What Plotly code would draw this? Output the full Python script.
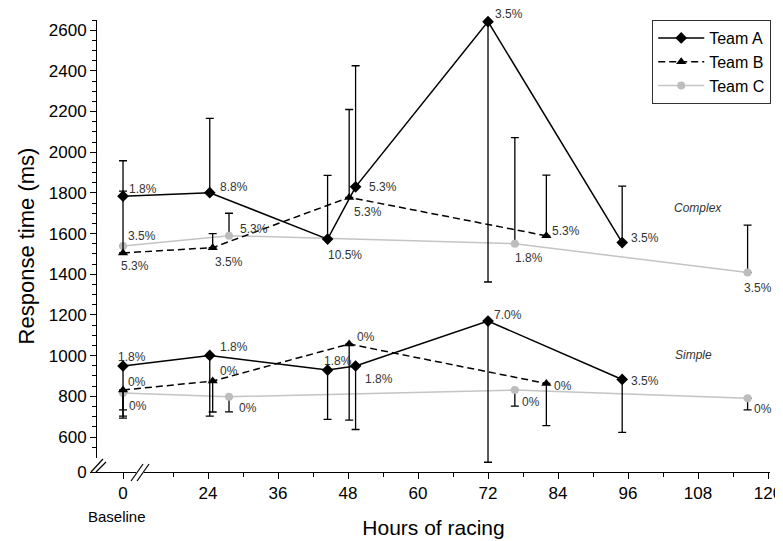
import plotly.graph_objects as go

# ---------------- data ----------------
hours_A = [0, 24.3, 44.5, 49.3, 72, 95]
hours_B = [0, 24.8, 48.2, 82]
hours_C = [0, 27.6, 76.6, 116.5]

# Complex task (ms)
complex_A = [1784, 1801, 1573, 1830, 2642, 1556]
complex_A_up = [174, 365, 313, 595, 0, 277]
complex_A_down = [0, 0, 0, 0, 1280, 0]
complex_B = [1505, 1531, 1778, 1589]
complex_B_up = [304, 69, 432, 298]
complex_B_down = [0, 0, 0, 0]
complex_C = [1539, 1590, 1550, 1409]
complex_C_up = [0, 110, 522, 233]
complex_C_down = [0, 0, 0, 0]

# Simple task (ms)
simple_A = [949, 1001, 929, 949, 1170, 883]
simple_A_up = [0, 0, 0, 0, 0, 0]
simple_A_down = [256, 298, 242, 312, 694, 260]
simple_B = [831, 875, 1057, 863]
simple_B_up = [0, 0, 0, 0]
simple_B_down = [128, 152, 374, 207]
simple_C = [816, 798, 831, 790]
simple_C_up = [0, 0, 0, 0]
simple_C_down = [83, 74, 79, 57]

# percentage labels
complex_A_lbl = ["1.8%", "8.8%", "10.5%", "5.3%", "3.5%", "3.5%"]
complex_B_lbl = ["5.3%", "3.5%", "5.3%", "5.3%"]
complex_C_lbl = ["3.5%", "5.3%", "1.8%", "3.5%"]
simple_A_lbl = ["1.8%", "1.8%", "1.8%", "1.8%", "7.0%", "3.5%"]
simple_B_lbl = ["0%", "0%", "0%", "0%"]
simple_C_lbl = ["0%", "0%", "0%", "0%"]

x_tick_labels = ["0", "24", "36", "48", "60", "72", "84", "96", "108", "120"]
y_tick_labels = ["0", "600", "800", "1000", "1200", "1400", "1600", "1800",
                 "2000", "2200", "2400", "2600"]

# ---------------- broken-axis scales ----------------
X_BASE_SHIFT = 9.43      # display position of hour 0 (axis broken between 0 and 24)
Y_ZERO_POS = 428         # display position of the "0" tick (axis broken below 600)


def xd(h):
    return h + X_BASE_SHIFT if h < 12 else h


FONT = "Liberation Sans, Arial, Helvetica, sans-serif"

# label offsets (px) relative to points
off_cA = [(20, 7), (24, 6), (17, -16), (27, 0), (21, 8), (23, 5)]
off_cB = [(12, -13), (16, -14), (19, -15), (20, 5)]
off_cC = [(19, 10), (25, 7), (14, -14), (10, -16)]
off_sA = [(9, 9), (24, 8), (10, 9), (23, -13), (20, 6), (23, -2)]
off_sB = [(14, 8), (16, 10), (17, 7), (17, -2)]
off_sC = [(15, -13), (19, -11), (16, -12), (15, -11)]

styles = {
    "A": dict(line=dict(color="black", width=1.5),
              marker=dict(symbol="diamond", size=9, color="black")),
    "B": dict(line=dict(color="black", width=1.5, dash="7px,4px"),
              marker=dict(symbol="triangle-up", size=9, color="black")),
    "C": dict(line=dict(color="#c4c4c4", width=1.5),
              marker=dict(symbol="circle", size=8, color="#bdbdbd")),
}

fig = go.Figure()

series = [
    ("C", "Team C", hours_C, complex_C, complex_C_up, complex_C_down, True),
    ("C", "Team C", hours_C, simple_C, simple_C_up, simple_C_down, False),
    ("B", "Team B", hours_B, complex_B, complex_B_up, complex_B_down, True),
    ("B", "Team B", hours_B, simple_B, simple_B_up, simple_B_down, False),
    ("A", "Team A", hours_A, complex_A, complex_A_up, complex_A_down, True),
    ("A", "Team A", hours_A, simple_A, simple_A_up, simple_A_down, False),
]

for key, name, hrs, vals, up, down, show in series:
    fig.add_trace(go.Scatter(
        x=[xd(h) for h in hrs], y=vals, mode="lines+markers", name=name,
        legendgroup=name, showlegend=show, cliponaxis=False,
        line=styles[key]["line"], marker=styles[key]["marker"],
        error_y=dict(type="data", symmetric=False, array=up, arrayminus=down,
                     color="black", thickness=1.3, width=4),
    ))

annots = []
for hrs, vals, lbls, offs in [
    (hours_A, complex_A, complex_A_lbl, off_cA),
    (hours_B, complex_B, complex_B_lbl, off_cB),
    (hours_C, complex_C, complex_C_lbl, off_cC),
    (hours_A, simple_A, simple_A_lbl, off_sA),
    (hours_B, simple_B, simple_B_lbl, off_sB),
    (hours_C, simple_C, simple_C_lbl, off_sC),
]:
    for h, v, t, (dx, dy) in zip(hrs, vals, lbls, offs):
        annots.append(dict(x=xd(h), y=v, xref="x", yref="y", text=t,
                           showarrow=False, xshift=dx, yshift=dy,
                           font=dict(size=12, color="#333333", family=FONT)))

annots.append(dict(x=108, y=1725, xref="x", yref="y", text="<i>Complex</i>",
                   showarrow=False, font=dict(size=12, color="#333333", family=FONT)))
annots.append(dict(x=107.3, y=1003, xref="x", yref="y", text="<i>Simple</i>",
                   showarrow=False, font=dict(size=12, color="#333333", family=FONT)))
annots.append(dict(x=xd(0), y=0, xref="x", yref="paper", text="Baseline",
                   showarrow=False, xshift=-6, yshift=-34, yanchor="top",
                   font=dict(size=15, color="black", family=FONT)))

x_major = [xd(0)] + [24, 36, 48, 60, 72, 84, 96, 108, 120]
x_minor = [18, 30, 42, 54, 66, 78, 90, 102, 114]
y_major = [Y_ZERO_POS] + list(range(600, 2601, 200))
y_minor = [550] + [v for v in range(650, 2651, 50) if v % 200 != 0]

# the page body adds an 8px offset; margins compensate for it
fig.update_layout(
    width=783, height=541,
    margin=dict(l=89, r=21, t=12, b=77, autoexpand=False),
    plot_bgcolor="white", paper_bgcolor="white",
    font=dict(family=FONT, color="black"),
    annotations=annots,
    legend=dict(x=0.825, y=1.0, xanchor="left", yanchor="top",
                traceorder="reversed",
                bordercolor="#333333", borderwidth=1, bgcolor="white",
                font=dict(size=16, family=FONT), tracegroupgap=0,
                itemwidth=46),
    xaxis=dict(range=[4.97, 120.34], tickmode="array", tickvals=x_major,
               ticktext=x_tick_labels, ticks="outside", ticklen=6,
               tickcolor="black", showline=True, linecolor="black", linewidth=1,
               showgrid=False, zeroline=False, tickfont=dict(size=17),
               automargin=False,
               minor=dict(tickvals=x_minor, ticks="outside", ticklen=4,
                          tickcolor="black"),
               title=dict(text="Hours of racing", font=dict(size=21),
                          standoff=17)),
    yaxis=dict(range=[Y_ZERO_POS, 2650], tickmode="array", tickvals=y_major,
               ticktext=y_tick_labels, ticks="outside", ticklen=6,
               tickcolor="black", showline=True, linecolor="black", linewidth=1,
               showgrid=False, zeroline=False, tickfont=dict(size=17),
               automargin=False,
               minor=dict(tickvals=y_minor, ticks="outside", ticklen=4,
                          tickcolor="black"),
               title=dict(text="Response time (ms)", font=dict(size=22),
                          standoff=8)),
)

# axis break marks
X_BREAK = 12.35
shapes = [
    dict(type="rect", xref="x", xsizemode="pixel", xanchor=X_BREAK, x0=-4, x1=4,
         yref="paper", ysizemode="pixel", yanchor=0, y0=-3, y1=3,
         fillcolor="white", line=dict(width=0), layer="above"),
    dict(type="line", xref="x", xsizemode="pixel", xanchor=X_BREAK, x0=-9, x1=3,
         yref="paper", ysizemode="pixel", yanchor=0, y0=-9, y1=8,
         line=dict(color="black", width=1.2), layer="above"),
    dict(type="line", xref="x", xsizemode="pixel", xanchor=X_BREAK, x0=-3, x1=9,
         yref="paper", ysizemode="pixel", yanchor=0, y0=-9, y1=8,
         line=dict(color="black", width=1.2), layer="above"),
    dict(type="rect", xref="paper", xsizemode="pixel", xanchor=0, x0=-3, x1=3,
         yref="paper", ysizemode="pixel", yanchor=0, y0=1, y1=14,
         fillcolor="white", line=dict(width=0), layer="above"),
    dict(type="line", xref="paper", xsizemode="pixel", xanchor=0, x0=-6, x1=6,
         yref="paper", ysizemode="pixel", yanchor=0, y0=0, y1=13,
         line=dict(color="black", width=1.2), layer="above"),
    dict(type="line", xref="paper", xsizemode="pixel", xanchor=0, x0=-1, x1=9,
         yref="paper", ysizemode="pixel", yanchor=0, y0=0, y1=10,
         line=dict(color="black", width=1.2), layer="above"),
]
fig.update_layout(shapes=shapes)

fig.write_html("out.html")
